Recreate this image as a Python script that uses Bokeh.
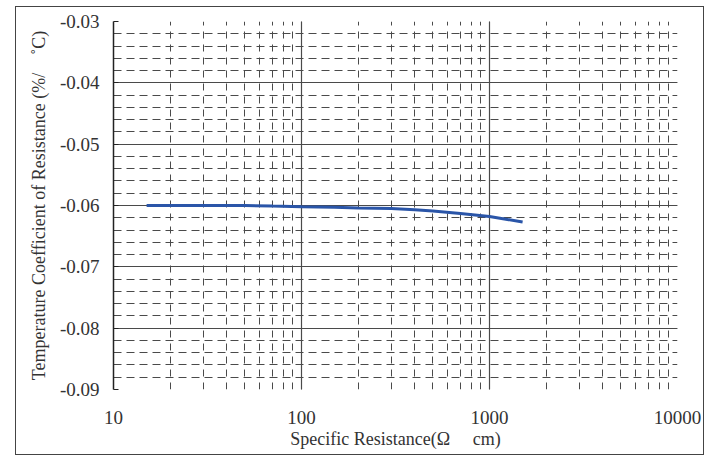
from bokeh.plotting import figure
from bokeh.models import FixedTicker, LogTicker, Range1d
from bokeh.embed import file_html
from bokeh.resources import INLINE

# data
resistance = [15, 20, 30, 50, 70, 100, 150, 200, 300, 400, 500, 700, 1000, 1200, 1500]
tcr = [-0.0600, -0.0600, -0.0600, -0.0600, -0.0601, -0.0602, -0.0603, -0.0604,
       -0.0605, -0.0607, -0.0609, -0.0613, -0.0618, -0.0622, -0.0627]
y_ticks = [-0.09, -0.08, -0.07, -0.06, -0.05, -0.04, -0.03]
y_labels = ["-0.09", "-0.08", "-0.07", "-0.06", "-0.05", "-0.04", "-0.03"]
y_minor = [round(-0.09 + 0.002 * i, 3) for i in range(31)]
x_ticks = [10, 100, 1000, 10000]

FONT = "Liberation Serif"
GRID = "#4a4a4a"
NB = "\u00a0"

p = figure(width=687, height=447, x_axis_type="log",
           x_range=Range1d(10, 10000), y_range=Range1d(-0.09, -0.03),
           output_backend="svg", toolbar_location=None,
           min_border_left=97, min_border_right=26, min_border_top=14, min_border_bottom=65,
           frame_width=564, frame_height=368,
           styles={"border": "1.5px solid #444", "box-sizing": "border-box",
                   "margin-left": "15px", "margin-top": "6px"})
p.outline_line_color = None
p.background_fill_color = "white"

p.line(resistance, tcr, line_color="#2a55a8", line_width=3, level="overlay")

# x axis
p.xaxis.ticker = LogTicker(desired_num_ticks=4, num_minor_ticks=10)
p.xaxis.major_label_overrides = {10: "10", 100: "100", 1000: "1000", 10000: "10000"}
p.xaxis.axis_line_color = None
p.xaxis.major_tick_line_color = None
p.xaxis.minor_tick_line_color = None
p.xaxis.major_label_standoff = 15
p.xaxis.axis_label = "Specific Resistance(Ω" + NB * 5 + "cm)"
p.xaxis.axis_label_standoff = 2

# y axis
p.yaxis.ticker = FixedTicker(ticks=y_ticks, minor_ticks=y_minor)
p.yaxis.major_label_overrides = {t: l for t, l in zip(y_ticks, y_labels)}
p.yaxis.axis_line_color = "#222"
p.yaxis.axis_line_width = 1.5
p.yaxis.major_tick_in = 5
p.yaxis.major_tick_out = 0
p.yaxis.major_tick_line_color = "#222"
p.yaxis.minor_tick_line_color = None
p.yaxis.major_label_standoff = 10
p.yaxis.axis_label = "Temperature Coefficient of Resistance (%/" + NB * 4 + "˚C)"
p.yaxis.axis_label_standoff = 8

for ax in (p.xaxis, p.yaxis):
    ax.major_label_text_font = FONT
    ax.major_label_text_font_size = "19px"
    ax.major_label_text_color = "#333"
    ax.axis_label_text_font = FONT
    ax.axis_label_text_font_size = "18px"
    ax.axis_label_text_font_style = "normal"
    ax.axis_label_text_color = "#333"

# grids
p.xgrid.ticker = p.xaxis.ticker
p.ygrid.ticker = p.yaxis.ticker
for g in (p.xgrid, p.ygrid):
    g.grid_line_color = GRID
    g.grid_line_width = 1.2
    g.minor_grid_line_color = GRID
    g.minor_grid_line_width = 1
    g.minor_grid_line_dash = "7 6"

p.ygrid.minor_grid_line_dash = "8 5"

open("out.html", "w").write(file_html(p, INLINE))
